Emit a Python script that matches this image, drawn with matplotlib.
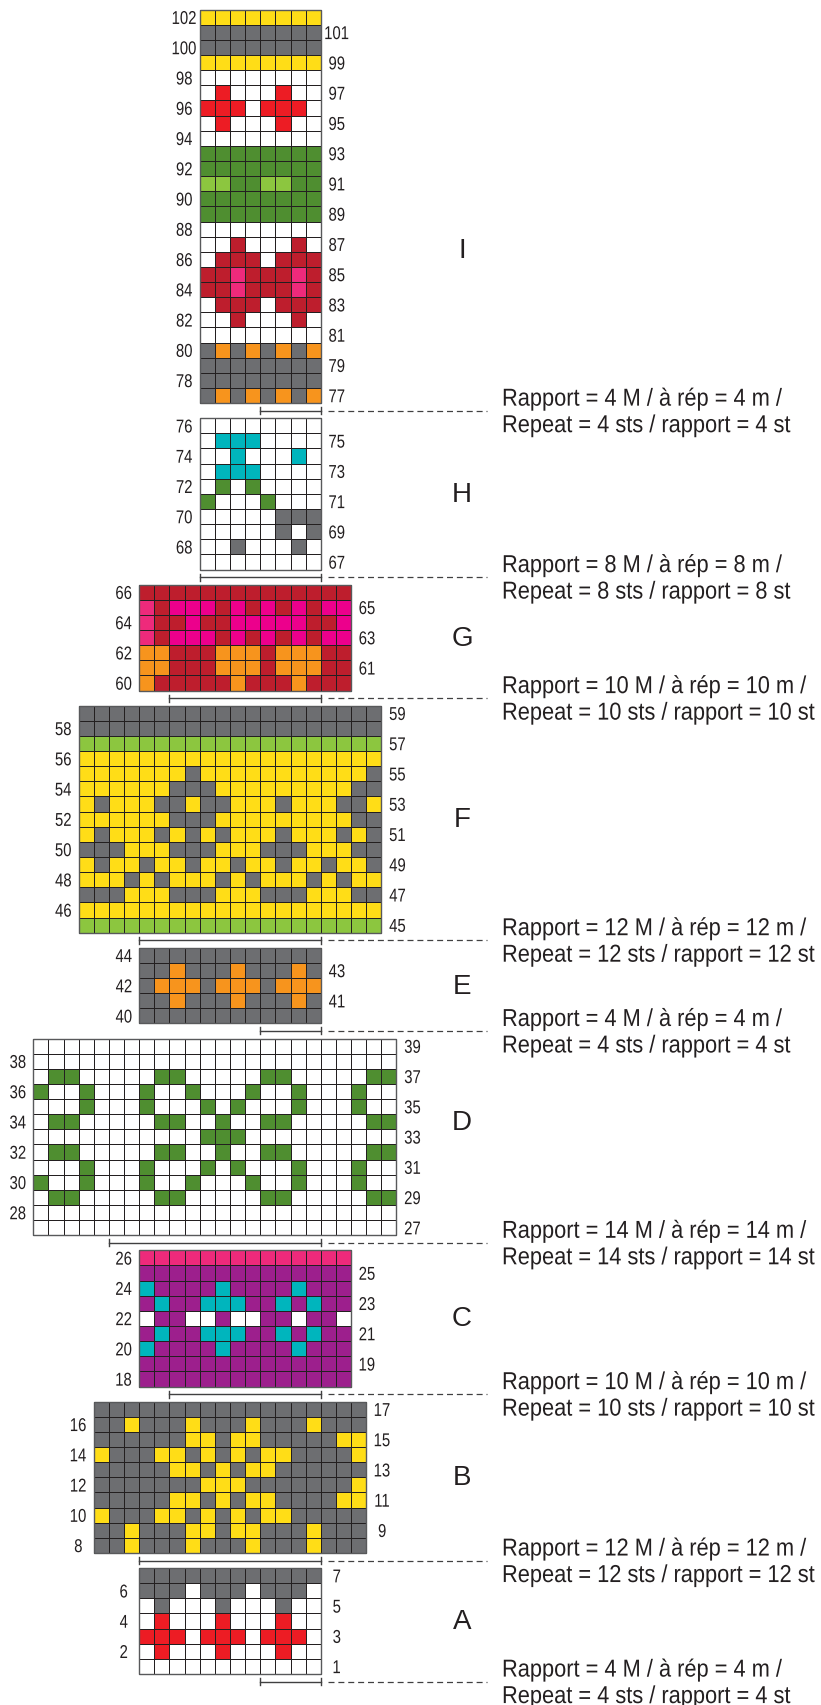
import matplotlib.pyplot as plt
from matplotlib.colors import ListedColormap
from matplotlib.patches import Rectangle, PathPatch
from matplotlib.textpath import TextPath
from matplotlib.font_manager import FontProperties
from matplotlib.transforms import Affine2D
import numpy as np

# codes couleur des cases
couleurs = {
    "W": "#ffffff", "K": "#6d6e71", "Y": "#ffdd17", "R": "#ed1c24",
    "G": "#4f8e30", "L": "#8cc63f", "D": "#be1e2d", "P": "#ee2a7b",
    "M": "#ec008c", "O": "#f7941d", "C": "#00b5bd", "U": "#9d1f8d",
}

# diagrammes, rang du haut en premier
diag_I = [
    "YYYYYYYY", "KKKKKKKK", "KKKKKKKK", "YYYYYYYY", "WWWWWWWW",
    "WRWWWRWW", "RRRWRRRW", "WRWWWRWW", "WWWWWWWW", "GGGGGGGG",
    "GGGGGGGG", "LLGGLLGG", "GGGGGGGG", "GGGGGGGG", "WWWWWWWW",
    "WWDWWWDW", "WDDDWDDD", "DDPDDDPD", "DDPDDDPD", "WDDDWDDD",
    "WWDWWWDW", "WWWWWWWW", "KOKOKOKO", "KKKKKKKK", "KKKKKKKK",
    "KOKOKOKO",
]
diag_H = [
    "WWWWWWWW", "WCCCWWWW", "WWCWWWCW", "WCCCWWWW", "WGWGWWWW",
    "GWWWGWWW", "WWWWWKKK", "WWWWWKWK", "WWKWWWKW", "WWWWWWWW",
]
diag_G = [
    "DDDDDDDDDDDDDD", "PDMMMDMDMDMDMM", "PDDMDDMMMMMDDM", "PDMMMDMDMDMDMM",
    "OODDDOOODOOODD", "OODDDOOODOOODD", "ODDDDDODDDODDD",
]
diag_F = [
    "KKKKKKKKKKKKKKKKKKKK", "KKKKKKKKKKKKKKKKKKKK", "LLLLLLLLLLLLLLLLLLLL",
    "YYYYYYYYYYYYYYYYYYYY", "YYYYYYYKYYYYYYYYYYYK", "YYYYYYKKKYYYYYYYYYKK",
    "YKYYYKKYKKYYYKYYYKKY", "YYYYYYKKKYYYYYYYYYKK", "YKYYYKYKYKYYYKYYYKYK",
    "KKKYYYKKKYYYKKKYYYKK", "YKYYKYYKYYKYYKYYKYYK", "YYYKYKYYYKYKYYYKYKYY",
    "KKKYYYKKKYYYKKKYYYKK", "YYYYYYYYYYYYYYYYYYYY", "LLLLLLLLLLLLLLLLLLLL",
]
diag_E = [
    "KKKKKKKKKKKK", "KKOKKKOKKKOK", "KOOOKOOOKOOO", "KKOKKKOKKKOK",
    "KKKKKKKKKKKK",
]
diag_D = [
    "WWWWWWWWWWWWWWWWWWWWWWWW", "WWWWWWWWWWWWWWWWWWWWWWWW",
    "WGGWWWWWGGWWWWWGGWWWWWGG", "GWWGWWWGWWGWWWGWWGWWWGWW",
    "WWWGWWWGWWWGWGWWWGWWWGWW", "WGGWWWWWGGWWGWWGGWWWWWGG",
    "WWWWWWWWWWWGGGWWWWWWWWWW", "WGGWWWWWGGWWGWWGGWWWWWGG",
    "WWWGWWWGWWWGWGWWWGWWWGWW", "GWWGWWWGWWGWWWGWWGWWWGWW",
    "WGGWWWWWGGWWWWWGGWWWWWGG", "WWWWWWWWWWWWWWWWWWWWWWWW",
    "WWWWWWWWWWWWWWWWWWWWWWWW",
]
diag_C = [
    "PPPPPPPPPPPPPP", "UUUUUUUUUUUUUU", "CUUUUCUUUUCUUU", "UCUUCCCUUCUCUU",
    "WUUWWUWWUUWUUW", "UCUUCCCUUCUCUU", "CUUUUCUUUUCUUU", "UUUUUUUUUUUUUU",
    "UUUUUUUUUUUUUU",
]
diag_B = [
    "KKKKKKKKKKKKKKKKKK", "KKYKKKYKKKYKKKYKKK", "KKKKKKYYKYYKKKKKYY",
    "YKKKYYKYKYKYYKKKKY", "KKKKKYYKYKYYKKKKKK", "KKKKKKKYYYKKKKKKKY",
    "KKKKKYYKYKYYKKKKYY", "YKKKYYKYKYKYYKKKKK", "KKYKKKYYKYYKKKYKKK",
    "KKYKKKYKKKYKKKYKKK",
]
diag_A = [
    "KKKKKKKKKKKK", "KKKWKKKWKKKW", "WKWWWKWWWKWW", "WRWWWRWWWRWW",
    "RRRWRRRWRRRW", "WRWWWRWWWRWW", "WWWWWWWWWWWW",
]

noms = ["I", "H", "G", "F", "E", "D", "C", "B", "A"]
diagrammes = [diag_I, diag_H, diag_G, diag_F, diag_E, diag_D, diag_C, diag_B, diag_A]
premier_rang = [77, 67, 60, 45, 40, 27, 18, 8, 1]
rapports = [4, 8, 10, 12, 4, 14, 10, 12, 4]

# placement (en cases) : colonne de gauche, rang du haut, hauteur de la lettre
col_gauche = [11, 11, 7, 3, 7, 0, 7, 4, 7]
haut = [0, 27, 38, 46, 62, 68, 82, 92, 103]
pos_lettre = [15.9, 32, 41.5, 53.5, 64.5, 73.5, 86.5, 97, 106.5]

W_PX, H_PX = 821, 1706
PX = 15.13  # pixels par case
X0, Y0 = 33.3, 10.7
ENCRE = "#231f20"
FP = FontProperties(family=["Liberation Sans", "DejaVu Sans"])

fig = plt.figure(figsize=(W_PX / 100, H_PX / 100), dpi=100)
ax = fig.add_axes([0, 0, 1, 1])
ax.set_xlim(-X0 / PX, (W_PX - X0) / PX)
ax.set_ylim((H_PX - Y0) / PX, -Y0 / PX)
ax.axis("off")


def texte_serre(x, y_base, s, taille, serrage, ha="left"):
    # texte etroit : chemin du texte ecrase en largeur (x, y en pixels depuis le haut)
    tp = TextPath((0, 0), s, size=taille, prop=FP)
    ext = tp.get_extents()
    larg = ext.x1 * serrage
    if ha == "right":
        x = x - larg
    elif ha == "center":
        x = x - (ext.x0 + ext.x1) / 2 * serrage
    tr = Affine2D().scale(serrage, 1).translate(x, H_PX - y_base)
    fig.add_artist(PathPatch(tp, transform=tr, fc=ENCRE, ec="none", lw=0))


cles = list(couleurs)
cmap = ListedColormap(list(couleurs.values()))

for nom, lignes, rang0, rep, xg, yh, yl in zip(noms, diagrammes, premier_rang, rapports,
                                              col_gauche, haut, pos_lettre):
    data = np.array([[cles.index(c) for c in ligne] for ligne in lignes])
    nr, nc = data.shape
    ax.pcolormesh(np.arange(nc + 1) + xg, np.arange(nr + 1) + yh, data, cmap=cmap,
                  vmin=-0.5, vmax=len(cles) - 0.5, edgecolors=ENCRE, linewidth=0.6)
    ax.add_patch(Rectangle((xg, yh), nc, nr, fill=False, ec="#58595b", lw=1.0))

    # numeros de rangs : pairs a gauche, impairs a droite
    gauche_px = X0 + xg * PX
    droite_px = X0 + (xg + nc) * PX
    for i in range(nr):
        num = rang0 + nr - 1 - i
        yc = Y0 + (yh + i + 0.5) * PX
        xc = gauche_px - 15.5 if num % 2 == 0 else droite_px + 16
        texte_serre(xc, yc + 6.7, str(num), 18.6, 0.8, ha="center")

    # accolade du motif + pointilles
    yb = yh + nr + 0.5
    x2 = 19
    x1 = x2 - rep
    ax.plot([x1, x2], [yb, yb], color="#404041", lw=1.0)
    ax.plot([x1, x1], [yb - 0.23, yb + 0.23], color="#404041", lw=1.0)
    ax.plot([x2, x2], [yb - 0.23, yb + 0.23], color="#404041", lw=1.0)
    ax.plot([(328 - X0) / PX, (487 - X0) / PX], [yb, yb], color="#404041", lw=0.9,
            ls=(0, (4.8, 3.1)))

    yb_px = Y0 + yb * PX
    texte_serre(502, yb_px - 5, f"Rapport = {rep} M / à rép = {rep} m /", 24.5, 0.89)
    texte_serre(502, yb_px + 21.5, f"Repeat = {rep} sts / rapport = {rep} st", 24.5, 0.89)

    ax.text((462 - X0) / PX, yl, nom, ha="center", va="center", fontsize=20,
            color=ENCRE, family=["Liberation Sans", "DejaVu Sans"])

fig.savefig("out.png", dpi=100)
